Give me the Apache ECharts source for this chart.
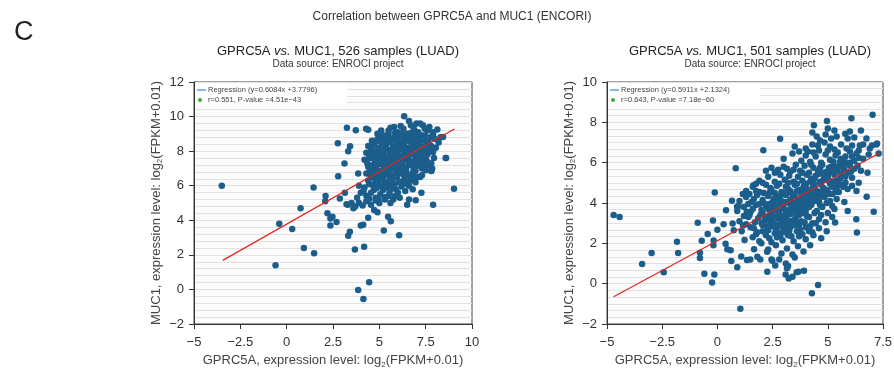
<!DOCTYPE html>
<html>
<head>
<meta charset="utf-8">
<script src="https://cdn.jsdelivr.net/npm/echarts@6/dist/echarts.min.js"></script>
<style>
  html, body { margin: 0; padding: 0; background: #fff; }
  #main { width: 894px; height: 369px; }
</style>
</head>
<body>
<div id="main"></div>
<script>
// points, [GPRC5A, MUC1]
const leftPoints = [
  [-3.5,6.0],[-0.6,1.4],[-0.4,3.8],[0.3,3.5],[0.75,4.7],[0.93,2.4],[1.45,5.9],[1.48,2.1],
  [2.1,5.4],[2.08,5.1],[2.2,4.4],[2.36,4.1],[2.47,4.2],[2.36,3.7],[2.69,3.9],[2.76,8.46],
  [2.78,6.55],[2.87,5.26],[3.14,5.6],[3.12,7.28],[3.25,9.36],[3.32,8.0],[3.42,8.28],[3.32,3.1],
  [3.41,3.33],[3.23,4.93],[3.68,2.31],[3.73,9.21],[3.86,6.7],[3.86,-0.04],[4.0,3.7],[4.13,3.74],
  [4.14,-0.55],[4.18,2.47],[4.4,4.14],[4.45,0.41],[4.29,9.3],[4.4,9.24],[4.72,4.59],[4.9,4.47],
  [5.24,3.41],[5.47,4.2],[5.62,3.95],[6.07,3.14],[6.34,10.02],[6.6,9.75],[7.27,5.6],[7.9,4.9],
  [8.58,7.61],[9.03,5.82],[8.44,8.82],[8.13,9.25],[7.8,6.86],[6.96,5.16],
  [5.1,9.2],[5.5,9.0],[5.8,9.4],[6.0,9.1],[6.3,9.3],[6.7,9.5],[7.0,9.6],[7.2,9.6],[7.35,9.5],
  [7.7,9.4],[7.9,9.1],[6.9,9.2],[6.5,9.0],[5.3,8.9],[4.9,9.0],
  [4.6,8.6],[4.9,8.7],[5.2,8.8],[5.4,8.6],[5.7,8.75],[5.9,8.9],[6.1,8.7],[6.4,8.85],[6.6,8.6],
  [6.85,8.8],[7.1,8.7],[7.3,8.9],[7.5,8.6],[7.75,8.8],[8.0,8.7],[8.3,8.8],
  [4.4,8.3],[4.7,8.4],[4.95,8.2],[5.15,8.45],[5.35,8.3],[5.55,8.5],[5.75,8.25],[5.95,8.45],
  [6.15,8.3],[6.35,8.5],[6.55,8.2],[6.75,8.4],[6.95,8.3],[7.15,8.5],[7.35,8.25],[7.55,8.4],
  [7.8,8.3],[8.05,8.2],
  [4.3,7.9],[4.55,8.0],[4.8,7.85],[5.0,8.1],[5.2,7.9],[5.4,8.05],[5.6,7.8],[5.8,8.0],[6.0,7.85],
  [6.2,8.1],[6.4,7.9],[6.6,8.0],[6.8,7.8],[7.0,8.05],[7.2,7.9],[7.4,8.0],[7.6,7.8],[7.9,7.95],
  [4.2,7.5],[4.5,7.6],[4.75,7.45],[4.95,7.7],[5.15,7.5],[5.35,7.65],[5.55,7.4],[5.75,7.6],
  [5.95,7.45],[6.15,7.7],[6.35,7.5],[6.55,7.6],[6.75,7.4],[6.95,7.65],[7.15,7.5],[7.35,7.6],
  [7.55,7.45],[7.8,7.3],[8.6,7.6],
  [4.4,7.1],[4.65,7.2],[4.85,7.0],[5.05,7.25],[5.25,7.05],[5.45,7.3],[5.65,7.1],[5.85,7.2],
  [6.05,7.0],[6.25,7.25],[6.45,7.05],[6.65,7.2],[6.85,7.0],[7.05,7.15],[7.3,7.0],[7.6,7.2],[7.85,7.0],
  [4.3,6.7],[4.6,6.8],[4.9,6.6],[5.1,6.85],[5.3,6.65],[5.5,6.8],[5.7,6.6],[5.9,6.9],[6.1,6.7],
  [6.3,6.85],[6.55,6.6],[6.8,6.75],[7.1,6.5],[7.3,6.6],[7.8,6.85],
  [4.4,6.3],[4.7,6.45],[4.95,6.25],[5.2,6.4],[5.45,6.2],[5.7,6.35],[5.95,6.5],[6.2,6.25],
  [6.45,6.4],[6.7,6.3],[6.95,6.2],[7.2,6.5],
  [3.9,6.0],[4.2,5.9],[4.6,6.05],[4.85,5.85],[5.1,6.0],[5.4,5.9],[5.65,6.05],[5.9,5.8],
  [6.2,5.95],[6.5,6.1],[6.8,5.8],
  [4.0,5.6],[4.3,5.4],[4.55,5.6],[4.8,5.3],[5.05,5.5],[5.3,5.35],[5.55,5.6],[5.85,5.4],
  [6.1,5.3],[6.6,5.2],
  [3.3,4.9],[3.5,5.0],[3.7,4.8],[3.9,5.0],[4.1,4.85],[4.3,5.1],[4.55,4.9],[4.8,5.15],[5.0,5.0],
  [5.3,5.2],[5.6,5.0],[6.5,4.9],[3.6,4.7],
  [5.6,8.6],[6.0,8.3],[6.4,8.2],[6.8,8.55],[5.9,7.7],[6.3,7.7],[6.6,7.3],[6.0,7.3],[5.4,7.0],
  [6.9,8.0],[7.2,8.2],[5.2,8.2],[5.0,7.4],[5.7,7.0],[6.2,6.9],[6.5,8.7],[7.5,8.1],[6.1,9.0],
  [5.5,9.2],[7.6,9.2],[7.1,9.1],
  [5.6,9.35],[6.15,9.45],[6.85,9.35],[7.45,9.3],
  [5.0,8.95],[5.45,8.8],[5.85,9.05],[6.25,8.95],[6.7,9.05],[7.05,8.95],[7.45,8.9],[7.9,8.95],
  [4.8,8.55],[5.05,8.6],[5.3,8.5],[5.85,8.6],[6.25,8.6],[6.7,8.7],[7.0,8.55],[7.25,8.6],
  [7.65,8.55],[8.2,8.5],
  [4.55,8.15],[4.85,8.05],[5.3,8.15],[5.65,8.1],[6.1,8.15],[6.5,8.05],[6.85,8.15],[7.3,8.15],[7.7,8.1],
  [4.45,7.75],[4.7,7.7],[5.1,7.75],[5.5,7.7],[6.05,7.7],[6.5,7.75],[6.9,7.8],[7.1,7.75],
  [7.5,7.7],[7.95,7.6],
  [4.35,7.3],[4.8,7.3],[5.25,7.35],[5.75,7.35],[6.2,7.4],[6.85,7.35],[7.2,7.3],[7.45,7.25],
  [4.5,6.95],[4.75,6.85],[5.3,6.9],[5.55,7.0],[6.0,6.95],[6.45,6.85],[6.95,6.85],[7.5,6.9],
  [4.55,6.55],[5.0,6.55],[5.55,6.5],[5.85,6.6],[6.35,6.55],[6.85,6.5],
  [4.45,6.1],[4.8,6.15],[5.3,6.15],[5.8,6.1],[6.05,6.2],[6.6,6.0],
  [4.15,5.7],[4.7,5.75],[5.2,5.75],[5.6,5.8],[6.0,5.6],[6.4,5.7],
  [3.8,5.3],[4.45,5.25],[4.95,5.25],[5.5,5.4],[5.75,5.2]
];

const rightPoints = [
  [-4.7,3.4],[-4.43,3.3],[-3.41,0.97],[-2.98,1.52],[-2.43,0.57],[-1.83,2.08],[-1.78,1.52],
  [-0.89,3.02],[-0.79,1.53],[-0.79,1.27],[-0.71,2.13],[-0.59,0.49],[-0.44,2.46],[-0.24,0.06],
  [-0.2,3.13],[-0.18,1.9],[-0.17,2.14],[-0.14,0.46],[-0.12,4.52],[0.0,2.67],[0.28,2.95],
  [0.37,1.98],[0.39,3.64],[0.45,1.71],[0.6,1.66],[0.63,1.12],[0.66,4.11],[0.69,2.98],
  [0.74,2.65],[0.83,5.72],[0.89,3.81],[0.9,0.81],[1.04,-1.24],[1.08,1.35],[1.16,2.89],
  [1.23,2.16],[1.33,3.56],[1.34,1.17],[1.45,3.4],[1.49,1.2],[1.63,4.88],[1.66,1.71],
  [1.81,1.33],[1.94,1.2],[1.99,2.01],[2.08,6.62],[2.26,0.59],[2.49,1.14],[2.84,7.19],
  [3.09,0.46],[3.23,0.26],[3.2,0.87],[3.59,0.57],[3.67,0.59],[3.92,0.64],[4.28,-0.48],
  [4.56,-0.07],[4.37,7.85],[4.96,8.07],[6.07,8.2],[7.03,8.38],[7.08,3.56],[6.76,4.31],
  [6.32,2.54],[6.29,3.2],[5.33,3.03],[5.79,7.44],[7.23,6.95],[7.3,6.45],
  [2.25,1.58],[2.45,1.2],[2.62,0.9],[3.15,0.76],[3.4,0.34],
  [4.3,7.5],[4.5,7.3],[4.9,7.4],[5.15,7.2],[5.4,7.3],[5.9,7.2],[6.2,7.25],[6.5,7.6],[6.75,7.2],
  [6.6,6.9],[7.0,6.85],
  [3.5,6.8],[4.0,6.7],[4.3,6.9],[4.6,6.6],[4.85,7.0],[5.1,6.8],[5.3,6.65],[5.6,6.9],[5.85,6.7],
  [6.1,6.85],[6.4,6.6],[6.9,6.7],[7.2,6.9],
  [3.0,6.2],[3.4,6.45],[3.8,6.1],[4.0,6.35],[4.2,6.05],[4.45,6.3],[4.7,6.0],[4.9,6.4],[5.1,6.15],
  [5.35,6.35],[5.55,6.05],[5.8,6.3],[6.0,6.0],[6.3,6.45],[6.6,6.2],[6.85,6.4],
  [2.2,5.6],[2.6,5.5],[3.0,5.8],[3.3,5.55],[3.55,5.9],[3.75,5.6],[3.95,5.85],[4.15,5.5],
  [4.35,5.75],[4.55,5.6],[4.75,5.9],[4.95,5.55],[5.15,5.8],[5.4,5.6],[5.65,5.85],[5.9,5.5],
  [6.2,5.7],[6.5,5.6],[6.8,5.5],
  [1.9,5.1],[2.3,5.3],[2.6,5.05],[2.85,5.4],[3.05,5.15],[3.25,5.35],[3.45,5.05],[3.65,5.3],
  [3.85,5.1],[4.05,5.4],[4.25,5.2],[4.45,5.35],[4.65,5.05],[4.85,5.3],[5.05,5.1],[5.3,5.4],
  [5.55,5.2],[5.8,5.0],[6.1,5.25],[6.4,5.0],
  [1.3,4.6],[1.6,4.8],[1.9,4.55],[2.2,4.9],[2.45,4.65],[2.7,4.85],[2.9,4.55],[3.1,4.8],
  [3.3,4.6],[3.5,4.9],[3.7,4.65],[3.9,4.8],[4.1,4.5],[4.3,4.75],[4.5,4.6],[4.7,4.9],
  [4.95,4.65],[5.2,4.8],[5.5,4.55],[5.9,4.7],[6.3,4.6],
  [1.0,4.1],[1.3,4.3],[1.55,4.05],[1.8,4.4],[2.05,4.15],[2.3,4.35],[2.5,4.05],[2.7,4.3],
  [2.9,4.1],[3.1,4.4],[3.3,4.15],[3.5,4.35],[3.7,4.0],[3.9,4.25],[4.1,4.1],[4.35,4.4],
  [4.6,4.05],[4.85,4.3],[5.1,4.1],[5.4,4.2],[5.75,4.05],
  [0.9,3.6],[1.2,3.8],[1.5,3.55],[1.75,3.9],[2.0,3.65],[2.2,3.85],[2.4,3.55],[2.6,3.8],
  [2.8,3.6],[3.0,3.9],[3.2,3.65],[3.4,3.85],[3.6,3.55],[3.8,3.75],[4.0,3.6],[4.25,3.9],
  [4.5,3.6],[4.75,3.8],[5.0,3.5],[5.3,3.7],[5.9,3.6],
  [1.0,3.1],[1.4,3.3],[1.7,3.05],[1.95,3.4],[2.15,3.15],[2.35,3.35],[2.55,3.0],[2.75,3.25],
  [2.95,3.1],[3.15,3.4],[3.35,3.05],[3.55,3.3],[3.8,3.1],[4.05,3.35],[4.3,3.0],[4.6,3.2],
  [4.9,3.05],[5.2,3.3],
  [1.1,2.6],[1.5,2.8],[1.8,2.55],[2.05,2.9],[2.3,2.65],[2.5,2.85],[2.75,2.55],[3.0,2.8],
  [3.25,2.6],[3.5,2.9],[3.75,2.65],[4.0,2.8],[4.3,2.55],[4.6,2.75],[4.95,2.6],
  [1.6,2.3],[1.9,2.1],[2.2,2.4],[2.45,2.05],[2.7,2.3],[2.95,2.15],[3.2,2.4],[3.45,2.1],
  [3.7,2.35],[4.0,2.2],[4.35,2.4],[4.7,2.25],
  [2.3,1.7],[2.65,1.9],[2.9,1.5],[3.15,1.75],[3.4,1.45],[3.65,1.85],[3.9,1.6],[4.2,1.9],
  [2.8,1.2],[3.1,1.0],[3.5,1.3],
  [2.45,5.75],[2.75,5.65],[3.15,5.7],[3.45,5.65],[3.85,5.5],[4.25,5.9],[4.65,5.75],[5.05,5.75],
  [5.5,5.75],[5.75,5.65],[6.05,5.55],[6.35,5.85],
  [1.75,4.95],[2.05,5.0],[2.4,4.75],[2.8,4.95],[3.2,5.0],[3.6,4.95],[4.0,4.95],[4.4,4.9],
  [4.8,4.75],[5.1,4.95],[5.45,4.95],[5.7,4.8],[6.1,4.85],
  [1.15,4.45],[1.45,4.45],[1.75,4.6],[2.1,4.5],[2.35,4.5],[2.6,4.5],[2.85,4.35],[3.2,4.55],
  [3.4,4.45],[3.6,4.6],[3.8,4.45],[4.0,4.55],[4.2,4.3],[4.45,4.45],[4.7,4.4],[5.05,4.45],[5.35,4.55],
  [0.95,3.85],[1.4,3.95],[1.65,4.2],[1.9,3.95],[2.1,4.0],[2.35,3.95],[2.55,4.2],[2.75,3.95],
  [2.95,3.75],[3.1,4.05],[3.3,3.95],[3.55,4.1],[3.75,3.85],[3.95,4.05],[4.15,3.8],[4.4,4.1],
  [4.65,3.9],[4.95,4.0],[5.2,3.85],
  [1.2,3.35],[1.6,3.7],[1.85,3.25],[2.05,3.5],[2.3,3.7],[2.5,3.45],[2.7,3.65],[2.9,3.35],
  [3.1,3.55],[3.3,3.45],[3.5,3.7],[3.7,3.4],[3.9,3.5],[4.15,3.3],[4.4,3.5],[4.7,3.4],
  [1.3,2.95],[1.65,2.75],[2.0,3.0],[2.25,2.85],[2.45,3.15],[2.65,2.75],[2.85,3.0],[3.1,2.95],
  [3.3,2.8],[3.45,3.15],[3.7,2.9],[3.95,3.05],[4.2,2.85],[4.45,3.0],
  [1.75,2.45],[2.05,2.6],[2.35,2.25],[2.6,2.5],[2.85,2.4],[3.1,2.55],[3.35,2.35],[3.6,2.6],
  [3.85,2.45],[4.15,2.6],
  [3.7,6.55],[4.1,6.55],[4.35,6.5],[4.55,6.85],[5.0,6.6],[5.25,6.05],[5.45,6.5],[5.75,6.1],
  [6.1,6.3],[6.45,6.85],[4.65,7.1],[5.0,7.7],[5.3,7.6],[6.0,7.55],
  [2.6,3.3],[2.8,3.45],[3.0,3.25],[3.2,3.15],[3.4,3.6],[3.6,3.85],[3.8,4.15],[4.0,4.4],
  [4.2,4.6],[4.4,4.75],[4.6,4.55],[4.8,5.15],[5.0,5.4],[5.2,5.55],[5.4,5.1],[5.6,5.45],
  [5.8,5.3],[6.0,5.85],[6.2,6.1],[6.4,6.25],
  [2.4,3.75],[2.6,4.05],[2.8,4.25],[3.0,4.5],[3.2,4.7],[3.4,4.25],[3.6,4.2],[3.8,4.6],
  [4.0,4.8],[4.2,5.05],[4.4,5.2],[4.6,5.45],[4.8,5.5],[5.0,5.25],[5.2,5.05],[5.4,5.8],
  [5.6,6.2],[5.8,5.95],[6.0,6.55],
  [2.2,3.3],[2.4,3.1],[2.6,2.95],[2.8,2.85],[3.0,2.6],[3.2,2.75],[3.4,2.95],[3.6,3.05],
  [3.8,3.6],[4.0,3.85],[4.2,4.0],[4.4,4.25],[4.6,4.2],[4.8,4.45],[5.0,4.55],[5.2,4.45],
  [5.4,4.75],[5.6,4.9]
];

// regression: [slope, intercept], x-range of the drawn line
const leftFit = [0.6084, 3.7796];
const rightFit = [0.5911, 2.1324];
const leftFitRange = [-3.45, 9.05];
const rightFitRange = [-4.7, 7.35];

const leftLegend = ['Regression (y=0.6084x +3.7796)', 'r=0.551, P-value =4.51e\u221243'];
const rightLegend = ['Regression (y=0.5911x +2.1324)', 'r=0.643, P-value =7.18e\u221260'];

const leftXTicks = [-5, 10, 2.5];
const rightXTicks = [-5, 7.5, 2.5];
const leftYTicks = [-2, 12, 2];
const rightYTicks = [-2, 10, 2];

const chart = echarts.init(document.getElementById('main'));

const font = 'Liberation Sans, Arial, Helvetica, sans-serif';
const dotColor = '#1b5e8b';
const gridLineColor = '#e3dfe3';
const fmt = v => String(v).replace('-', '\u2212');

function fitLine(fit, range) {
  return range.map(x => [x, fit[0] * x + fit[1]]);
}

const nameStyle = {
  fontFamily: font, fontSize: 13, color: '#444',
  rich: { sub: { fontFamily: font, fontSize: 8, color: '#444', padding: [8, 0, 0, 0] } }
};

function xAxis(idx, ticks) {
  return {
    gridIndex: idx, type: 'value',
    min: ticks[0], max: ticks[1], interval: ticks[2],
    name: 'GPRC5A, expression level: log{sub|2}(FPKM+0.01)',
    nameLocation: 'middle', nameGap: 28, nameTextStyle: nameStyle,
    axisLine: { show: true, onZero: false, lineStyle: { color: '#333' } },
    axisTick: { show: true, inside: false, length: 5, lineStyle: { color: '#333' } },
    axisLabel: { fontFamily: font, fontSize: 13, color: '#333', margin: 12, formatter: fmt },
    splitLine: { show: false }
  };
}

function yAxis(idx, ticks, minor) {
  return {
    gridIndex: idx, type: 'value',
    min: ticks[0], max: ticks[1], interval: ticks[2],
    name: 'MUC1, expression level: log{sub|2}(FPKM+0.01)',
    nameLocation: 'middle', nameGap: 30, nameTextStyle: nameStyle,
    axisLine: { show: true, onZero: false, lineStyle: { color: '#333' } },
    axisTick: { show: true, inside: false, length: 5, lineStyle: { color: '#333' } },
    axisLabel: { fontFamily: font, fontSize: 13, color: '#333', margin: 10, formatter: fmt },
    splitLine: { show: true, lineStyle: { color: gridLineColor, width: 1 } },
    minorTick: { show: false, splitNumber: minor },
    minorSplitLine: { show: true, lineStyle: { color: gridLineColor, width: 1 } }
  };
}

function legendBox(x, y, texts) {
  return [
    { type: 'rect', shape: { x: x, y: y, width: 152, height: 22 }, style: { fill: '#fff' }, z: 50 },
    { type: 'line', shape: { x1: x + 2, y1: y + 7, x2: x + 11, y2: y + 7 },
      style: { stroke: '#2b8fd1', lineWidth: 1.2 }, z: 51 },
    { type: 'text', x: x + 13, y: y + 7,
      style: { text: texts[0], font: '7.5px ' + font, fill: '#444', verticalAlign: 'middle' }, z: 51 },
    { type: 'circle', shape: { cx: x + 5, cy: y + 17, r: 2 }, style: { fill: '#3ea83e' }, z: 51 },
    { type: 'text', x: x + 13, y: y + 17,
      style: { text: texts[1], font: '7.5px ' + font, fill: '#444', verticalAlign: 'middle' }, z: 51 }
  ];
}

const titleRich = {
  i: { fontFamily: font, fontSize: 13, color: '#222', fontStyle: 'italic', fontWeight: 'normal' },
  n: { fontFamily: font, fontSize: 13, color: '#222', fontWeight: 'normal' }
};

chart.setOption({
  animation: false,
  title: [
    { text: 'Correlation between GPRC5A and MUC1 (ENCORI)', left: 447, top: 6, textAlign: 'center',
      textStyle: { fontFamily: font, fontSize: 12, fontWeight: 'normal', color: '#333' } },
    { text: 'C', left: 9, top: 14,
      textStyle: { fontFamily: font, fontSize: 27, fontWeight: 'normal', color: '#222' } },
    { text: '{n|GPRC5A }{i|vs.}{n| MUC1, 526 samples (LUAD)}', left: 333, top: 40, textAlign: 'center',
      textStyle: { fontWeight: 'normal', rich: titleRich },
      subtext: 'Data source: ENROCI project', itemGap: 1,
      subtextStyle: { fontFamily: font, fontSize: 10, color: '#333' } },
    { text: '{n|GPRC5A }{i|vs.}{n| MUC1, 501 samples (LUAD)}', left: 745, top: 40, textAlign: 'center',
      textStyle: { fontWeight: 'normal', rich: titleRich },
      subtext: 'Data source: ENROCI project', itemGap: 1,
      subtextStyle: { fontFamily: font, fontSize: 10, color: '#333' } }
  ],
  grid: [
    { left: 194, top: 82, width: 278, height: 242, outerBoundsMode: 'none', containLabel: false,
      show: true, borderColor: '#444', borderWidth: 1, backgroundColor: '#fdfcfd' },
    { left: 607, top: 82, width: 276, height: 242, outerBoundsMode: 'none', containLabel: false,
      show: true, borderColor: '#444', borderWidth: 1, backgroundColor: '#fdfcfd' }
  ],
  xAxis: [xAxis(0, leftXTicks), xAxis(1, rightXTicks)],
  yAxis: [yAxis(0, leftYTicks, 5), yAxis(1, rightYTicks, 6)],
  series: [
    { type: 'scatter', xAxisIndex: 0, yAxisIndex: 0, data: leftPoints, symbolSize: 6.5,
      itemStyle: { color: dotColor, opacity: 1 }, z: 3 },
    { type: 'line', xAxisIndex: 0, yAxisIndex: 0, data: fitLine(leftFit, leftFitRange), symbol: 'none',
      lineStyle: { color: '#e1251b', width: 1.2 }, z: 4 },
    { type: 'scatter', xAxisIndex: 1, yAxisIndex: 1, data: rightPoints, symbolSize: 6.5,
      itemStyle: { color: dotColor, opacity: 1 }, z: 3 },
    { type: 'line', xAxisIndex: 1, yAxisIndex: 1, data: fitLine(rightFit, rightFitRange), symbol: 'none',
      lineStyle: { color: '#e1251b', width: 1.2 }, z: 4 }
  ],
  graphic: legendBox(195, 83, leftLegend).concat(legendBox(608, 83, rightLegend))
});
</script>
</body>
</html>
